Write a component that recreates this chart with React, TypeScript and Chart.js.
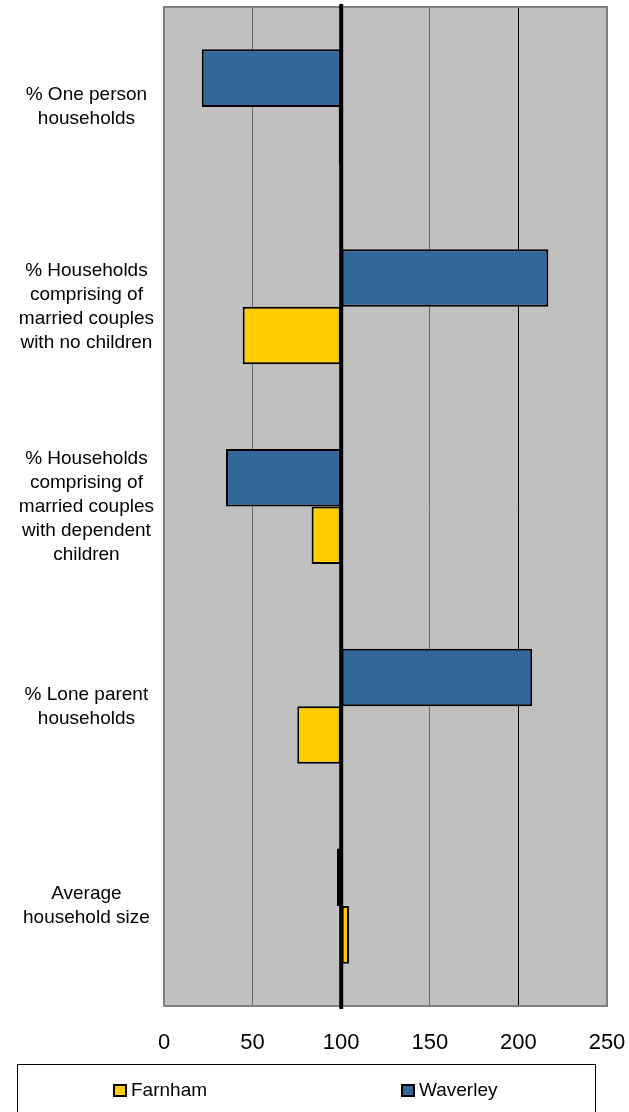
import React, { useEffect, useRef } from 'react';
import { Chart, registerables } from 'chart.js';

Chart.register(...registerables);

const categories: string[][] = [
  ['% One person', 'households'],
  ['% Households', 'comprising of', 'married couples', 'with no children'],
  ['% Households', 'comprising of', 'married couples', 'with dependent', 'children'],
  ['% Lone parent', 'households'],
  ['Average', 'household size'],
];
const farnhamValues = [98.6, 44.4, 83.3, 75.2, 104.4];
const waverleyValues = [21.3, 216.9, 35.0, 207.8, 97.6];
const xTickValues = [0, 50, 100, 150, 200, 250];
const seriesNames = ['Farnham', 'Waverley'];
const seriesColors = ['#FFCC00', '#336699'];
const baseValue = 100;

const FONT = '"Liberation Sans", Arial, sans-serif';

const plotDecor = {
  id: 'plotDecor',
  beforeDraw(chart: any) {
    const { ctx, chartArea: a } = chart;
    ctx.save();
    ctx.fillStyle = '#C0C0C0';
    ctx.fillRect(a.left, a.top, a.right - a.left, a.bottom - a.top);
    ctx.restore();
  },
  afterDatasetsDraw(chart: any) {
    const { ctx, chartArea: a } = chart;
    const x = chart.scales.x.getPixelForValue(baseValue);
    ctx.save();
    ctx.strokeStyle = '#808080';
    ctx.lineWidth = 2;
    ctx.strokeRect(a.left, a.top, a.right - a.left, a.bottom - a.top);
    ctx.strokeStyle = '#000';
    ctx.lineWidth = 4;
    ctx.beginPath();
    ctx.moveTo(x, a.top - 3);
    ctx.lineTo(x, a.bottom + 3);
    ctx.stroke();
    ctx.restore();
  },
  afterDraw(chart: any) {
    const { ctx } = chart;
    ctx.save();
    ctx.strokeStyle = '#000';
    ctx.lineWidth = 1;
    ctx.strokeRect(17.5, 1064.5, 578, 80);
    const items = [
      { x: 114, label: seriesNames[0], color: seriesColors[0] },
      { x: 402, label: seriesNames[1], color: seriesColors[1] },
    ];
    ctx.font = '19px ' + FONT;
    ctx.textBaseline = 'middle';
    ctx.textAlign = 'left';
    for (const it of items) {
      ctx.fillStyle = it.color;
      ctx.fillRect(it.x, 1085, 12, 11);
      ctx.strokeStyle = '#000';
      ctx.lineWidth = 2;
      ctx.strokeRect(it.x, 1085, 12, 11);
      ctx.fillStyle = '#000';
      ctx.fillText(it.label, it.x + 17, 1091);
    }
    ctx.restore();
  },
};

export default function App() {
  const ref = useRef<HTMLCanvasElement | null>(null);
  useEffect(() => {
    if (!ref.current) return;
    const barStyle = {
      base: baseValue,
      borderColor: '#000',
      borderWidth: 2,
      borderSkipped: false,
      categoryPercentage: 0.576,
      barPercentage: 1,
    };
    const chart = new Chart(ref.current, {
      type: 'bar',
      data: {
        labels: categories as any,
        datasets: [
          { label: seriesNames[1], data: waverleyValues, backgroundColor: seriesColors[1], ...barStyle } as any,
          { label: seriesNames[0], data: farnhamValues, backgroundColor: seriesColors[0], ...barStyle } as any,
        ],
      },
      options: {
        indexAxis: 'y',
        responsive: false,
        animation: false,
        devicePixelRatio: 1,
        layout: { padding: { top: 7, right: 22, bottom: 46, left: 0 } },
        plugins: { legend: { display: false }, tooltip: { enabled: false } },
        scales: {
          x: {
            type: 'linear',
            min: xTickValues[0],
            max: xTickValues[xTickValues.length - 1],
            afterBuildTicks: (s: any) => {
              s.ticks = xTickValues.map((v) => ({ value: v }));
            },
            afterFit: (s: any) => {
              s.height = 60;
              s.paddingLeft = 0;
              s.paddingRight = 0;
            },
            ticks: {
              color: '#000',
              font: { family: FONT, size: 22 },
              padding: 24,
              maxRotation: 0,
            },
            grid: {
              drawTicks: false,
              color: (c: any) => {
                const v = c.tick ? c.tick.value : null;
                if (v === 0 || v === 250 || v === 100) return 'rgba(0,0,0,0)';
                if (v === 200) return '#000';
                return '#666';
              },
              lineWidth: 1,
            },
            border: { display: false },
          },
          y: {
            type: 'category',
            afterFit: (s: any) => {
              s.width = 164;
              s.paddingTop = 0;
              s.paddingBottom = 0;
            },
            ticks: {
              color: '#000',
              font: { family: FONT, size: 19, lineHeight: '24px' },
              crossAlign: 'center',
              padding: 10,
            },
            grid: { display: false, drawTicks: false },
            border: { display: false },
          },
        },
      } as any,
      plugins: [plotDecor],
    });
    return () => chart.destroy();
  }, []);
  return (
    <div style={{ position: 'absolute', left: 0, top: 0, width: 629, height: 1112, background: '#fff' }}>
      <canvas ref={ref} width={629} height={1112} style={{ display: 'block' }} />
    </div>
  );
}
